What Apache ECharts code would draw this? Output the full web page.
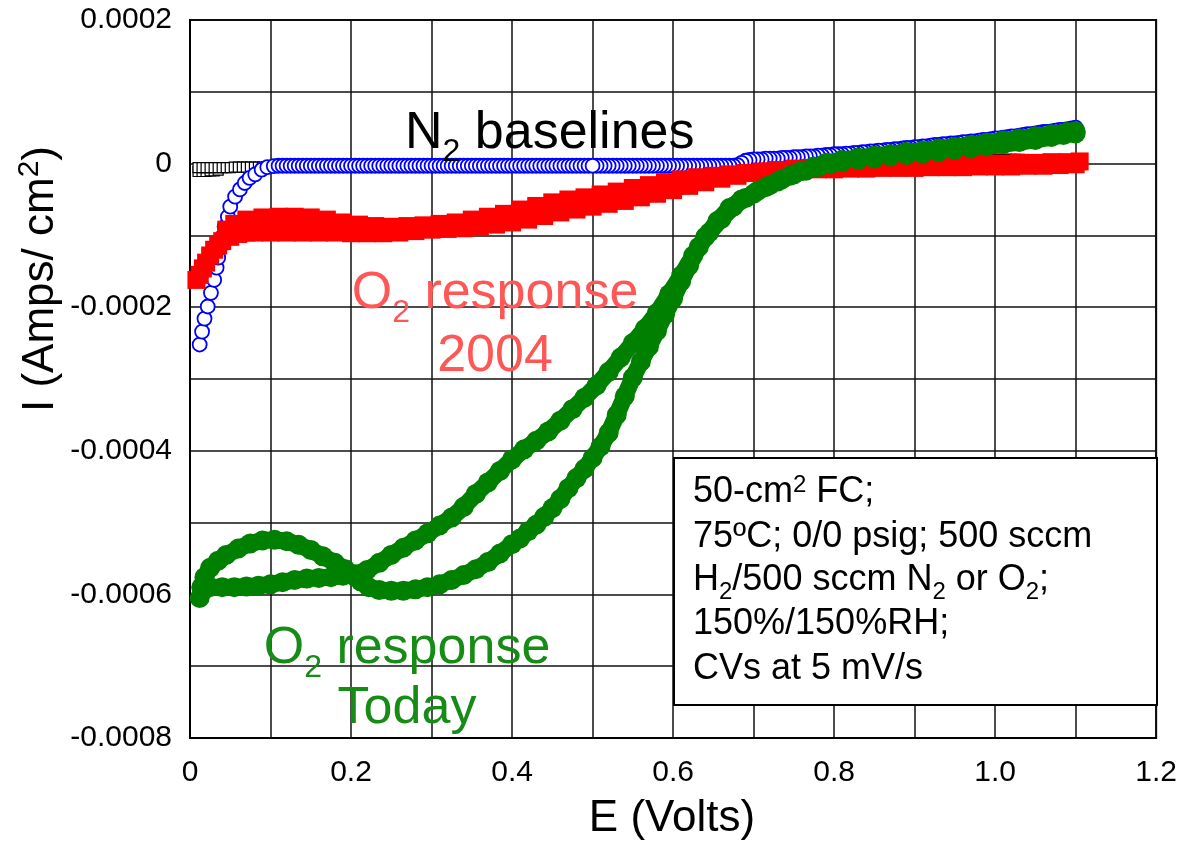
<!DOCTYPE html>
<html>
<head>
<meta charset="utf-8">
<title>O2 response CV</title>
<script src="https://cdn.jsdelivr.net/npm/echarts@6/dist/echarts.min.js"></script>
<style>
  html, body { margin: 0; padding: 0; background: #fff; }
  #chart { width: 1180px; height: 843px; }
</style>
</head>
<body>
<div id="chart"></div>
<script>
// ---- axis tick labels ----
const X_TICK_LABELS = ['0', '0.2', '0.4', '0.6', '0.8', '1.0', '1.2'];
const Y_TICK_LABELS = ['-0.0008', '-0.0006', '-0.0004', '-0.0002', '0', '0.0002'];

// ---- N2 baseline, 2004 run (open black squares) : [E (V), I (A/cm2)] ----
const N2_BASELINE_2004 = [
  [0.010,-1.1e-5],[0.015,-1.1e-5],[0.020,-1.1e-5],[0.025,-1.0e-5],[0.030,-1.0e-5],[0.035,-0.9e-5],
  [0.010,-0.55e-5],[0.015,-0.55e-5],[0.020,-0.55e-5],[0.025,-0.55e-5],[0.030,-0.55e-5],[0.035,-0.55e-5],
  [0.040,-0.55e-5],[0.045,-0.55e-5],[0.050,-0.55e-5],[0.055,-0.5e-5],[0.060,-0.5e-5],[0.065,-0.5e-5],
  [0.070,-0.5e-5],[0.075,-0.5e-5],[0.080,-0.5e-5],[0.085,-0.5e-5],[0.090,-0.5e-5],[0.095,-0.5e-5],
  [0.100,-0.5e-5],[0.105,-0.5e-5],[0.110,-0.5e-5],[0.115,-0.45e-5],
  [0.14,-0.4e-5],[0.18,-0.4e-5],[0.22,-0.4e-5],[0.26,-0.4e-5],[0.30,-0.4e-5],[0.34,-0.4e-5],
  [0.38,-0.4e-5],[0.42,-0.4e-5],[0.46,-0.4e-5],[0.50,-0.4e-5],[0.54,-0.4e-5],[0.58,-0.4e-5],[0.62,-0.4e-5],
  [0.975,0.6e-5],[0.980,0.6e-5],[0.985,0.6e-5],[0.990,0.6e-5],[0.995,0.6e-5],[1.000,0.6e-5],
  [1.005,0.6e-5],[1.010,0.6e-5],[1.015,0.6e-5],[1.020,0.6e-5],[1.025,0.6e-5],[1.030,0.6e-5]
];

// ---- N2 baseline, today (open blue circles) ----
const N2_BASELINE_TODAY = [
  // cathodic tail and rise
  [0.012,-2.52e-4],[0.015,-2.34e-4],[0.018,-2.16e-4],[0.022,-1.99e-4],[0.026,-1.80e-4],[0.030,-1.62e-4],
  [0.033,-1.45e-4],[0.035,-1.31e-4],[0.038,-1.15e-4],[0.040,-1.02e-4],[0.043,-0.88e-4],[0.047,-0.74e-4],
  [0.050,-0.60e-4],[0.056,-0.46e-4],[0.062,-0.36e-4],[0.068,-0.27e-4],[0.074,-0.20e-4],[0.081,-0.15e-4],
  [0.089,-0.085e-4],[0.096,-0.05e-4],[0.104,-0.035e-4],[0.110,-0.03e-4],
  // flat double-layer region, scanning up
  [0.115,-3e-6],[0.120,-3e-6],[0.125,-3e-6],[0.130,-3e-6],[0.135,-3e-6],[0.140,-3e-6],[0.145,-3e-6],
  [0.150,-3e-6],[0.155,-3e-6],[0.160,-3e-6],[0.165,-3e-6],[0.170,-3e-6],[0.175,-3e-6],[0.180,-3e-6],
  [0.185,-3e-6],[0.190,-3e-6],[0.195,-3e-6],[0.200,-3e-6],[0.205,-3e-6],[0.210,-3e-6],[0.215,-3e-6],
  [0.220,-3e-6],[0.225,-3e-6],[0.230,-3e-6],[0.235,-3e-6],[0.240,-3e-6],[0.245,-3e-6],[0.250,-3e-6],
  [0.255,-3e-6],[0.260,-3e-6],[0.265,-3e-6],[0.270,-3e-6],[0.275,-3e-6],[0.280,-3e-6],[0.285,-3e-6],
  [0.290,-3e-6],[0.295,-3e-6],[0.300,-3e-6],[0.305,-3e-6],[0.310,-3e-6],[0.315,-3e-6],[0.320,-3e-6],
  [0.325,-3e-6],[0.330,-3e-6],[0.335,-3e-6],[0.340,-3e-6],[0.345,-3e-6],[0.350,-3e-6],[0.355,-3e-6],
  [0.360,-3e-6],[0.365,-3e-6],[0.370,-3e-6],[0.375,-3e-6],[0.380,-3e-6],[0.385,-3e-6],[0.390,-3e-6],
  [0.395,-3e-6],[0.400,-3e-6],[0.405,-3e-6],[0.410,-3e-6],[0.415,-3e-6],[0.420,-3e-6],[0.425,-3e-6],
  [0.430,-3e-6],[0.435,-3e-6],[0.440,-3e-6],[0.445,-3e-6],[0.450,-3e-6],[0.455,-3e-6],[0.460,-3e-6],
  [0.465,-3e-6],[0.470,-3e-6],[0.475,-3e-6],[0.480,-3e-6],[0.485,-3e-6],[0.490,-3e-6],[0.495,-3e-6],
  // return sweep from the upper limit down to 0.5 V
  [1.100,0.50e-4],[1.095,0.49e-4],[1.090,0.48e-4],[1.085,0.47e-4],[1.080,0.47e-4],[1.075,0.46e-4],
  [1.070,0.45e-4],[1.065,0.44e-4],[1.060,0.44e-4],[1.055,0.43e-4],[1.050,0.42e-4],[1.045,0.41e-4],
  [1.040,0.41e-4],[1.035,0.40e-4],[1.030,0.39e-4],[1.025,0.38e-4],[1.020,0.38e-4],[1.015,0.37e-4],
  [1.010,0.36e-4],[1.005,0.35e-4],[1.000,0.35e-4],[0.995,0.34e-4],[0.990,0.33e-4],[0.985,0.33e-4],
  [0.980,0.32e-4],[0.975,0.31e-4],[0.970,0.31e-4],[0.965,0.30e-4],[0.960,0.30e-4],[0.955,0.29e-4],
  [0.950,0.28e-4],[0.945,0.28e-4],[0.940,0.27e-4],[0.935,0.27e-4],[0.930,0.26e-4],[0.925,0.26e-4],
  [0.920,0.25e-4],[0.915,0.24e-4],[0.910,0.24e-4],[0.905,0.23e-4],[0.900,0.23e-4],[0.895,0.22e-4],
  [0.890,0.22e-4],[0.885,0.21e-4],[0.880,0.20e-4],[0.875,0.20e-4],[0.870,0.19e-4],[0.865,0.19e-4],
  [0.860,0.18e-4],[0.855,0.18e-4],[0.850,0.17e-4],[0.845,0.17e-4],[0.840,0.16e-4],[0.835,0.16e-4],
  [0.830,0.15e-4],[0.825,0.15e-4],[0.820,0.14e-4],[0.815,0.14e-4],[0.810,0.13e-4],[0.805,0.13e-4],
  [0.800,0.13e-4],[0.795,0.12e-4],[0.790,0.12e-4],[0.785,0.11e-4],[0.780,0.11e-4],[0.775,0.10e-4],
  [0.770,0.10e-4],[0.765,0.10e-4],[0.760,0.09e-4],[0.755,0.09e-4],[0.750,0.09e-4],[0.745,0.08e-4],
  [0.740,0.08e-4],[0.735,0.08e-4],[0.730,0.07e-4],[0.725,0.07e-4],[0.720,0.07e-4],[0.715,0.07e-4],
  [0.710,0.06e-4],[0.705,0.06e-4],[0.700,0.06e-4],[0.695,0.05e-4],[0.690,0.04e-4],[0.685,0.01e-4],
  [0.680,-0.02e-4],[0.675,-3e-6],[0.670,-3e-6],[0.665,-3e-6],[0.660,-3e-6],[0.655,-3e-6],[0.650,-3e-6],
  [0.645,-3e-6],[0.640,-3e-6],[0.635,-3e-6],[0.630,-3e-6],[0.625,-3e-6],[0.620,-3e-6],[0.615,-3e-6],
  [0.610,-3e-6],[0.605,-3e-6],[0.600,-3e-6],[0.595,-3e-6],[0.590,-3e-6],[0.585,-3e-6],[0.580,-3e-6],
  [0.575,-3e-6],[0.570,-3e-6],[0.565,-3e-6],[0.560,-3e-6],[0.555,-3e-6],[0.550,-3e-6],[0.545,-3e-6],
  [0.540,-3e-6],[0.535,-3e-6],[0.530,-3e-6],[0.525,-3e-6],[0.520,-3e-6],[0.515,-3e-6],[0.510,-3e-6],
  [0.505,-3e-6],[0.500,-3e-6]
];

// ---- O2 response, 2004 run (filled red squares) ----
const O2_RESPONSE_2004 = [
  // anodic sweep
  [0.008,-1.62e-4],[0.012,-1.55e-4],[0.016,-1.46e-4],[0.020,-1.38e-4],[0.025,-1.28e-4],[0.030,-1.20e-4],
  [0.035,-1.14e-4],[0.040,-1.08e-4],[0.050,-1.02e-4],[0.060,-0.98e-4],[0.070,-0.96e-4],[0.080,-0.96e-4],
  [0.100,-0.96e-4],[0.120,-0.96e-4],[0.140,-0.96e-4],[0.160,-0.96e-4],[0.180,-0.96e-4],[0.200,-0.97e-4],
  [0.220,-0.97e-4],[0.240,-0.97e-4],[0.260,-0.96e-4],[0.280,-0.94e-4],[0.300,-0.92e-4],[0.320,-0.91e-4],
  [0.340,-0.90e-4],[0.360,-0.88e-4],[0.380,-0.85e-4],[0.400,-0.82e-4],[0.420,-0.78e-4],[0.440,-0.73e-4],
  [0.460,-0.68e-4],[0.480,-0.64e-4],[0.500,-0.60e-4],[0.520,-0.56e-4],[0.540,-0.52e-4],[0.560,-0.47e-4],
  [0.580,-0.42e-4],[0.600,-0.37e-4],[0.620,-0.31e-4],[0.640,-0.26e-4],[0.660,-0.21e-4],[0.680,-0.17e-4],
  [0.700,-0.13e-4],[0.720,-0.11e-4],[0.740,-0.10e-4],[0.760,-0.09e-4],[0.780,-0.08e-4],[0.800,-0.08e-4],
  [0.820,-0.07e-4],[0.840,-0.07e-4],[0.860,-0.06e-4],[0.880,-0.06e-4],[0.900,-0.06e-4],[0.920,-0.05e-4],
  [0.940,-0.05e-4],[0.960,-0.05e-4],[0.980,-0.04e-4],[1.000,-0.04e-4],[1.020,-0.04e-4],[1.040,-0.03e-4],
  [1.060,-0.03e-4],[1.080,-0.02e-4],[1.100,-0.01e-4],
  // cathodic sweep
  [1.105,0.03e-4],[1.090,0.02e-4],[1.070,0.02e-4],[1.050,0.01e-4],[1.030,0.01e-4],[1.010,0.00],
  [0.990,0.00],[0.970,-0.01e-4],[0.950,-0.01e-4],[0.930,-0.01e-4],[0.910,-0.02e-4],[0.890,-0.02e-4],
  [0.870,-0.02e-4],[0.850,-0.03e-4],[0.830,-0.03e-4],[0.810,-0.04e-4],[0.790,-0.05e-4],[0.770,-0.06e-4],
  [0.750,-0.07e-4],[0.730,-0.09e-4],[0.710,-0.11e-4],[0.690,-0.13e-4],[0.670,-0.15e-4],[0.650,-0.17e-4],
  [0.630,-0.19e-4],[0.610,-0.22e-4],[0.590,-0.26e-4],[0.570,-0.30e-4],[0.550,-0.34e-4],[0.530,-0.39e-4],
  [0.510,-0.43e-4],[0.490,-0.47e-4],[0.470,-0.50e-4],[0.450,-0.54e-4],[0.430,-0.59e-4],[0.410,-0.64e-4],
  [0.390,-0.70e-4],[0.370,-0.74e-4],[0.350,-0.78e-4],[0.330,-0.82e-4],[0.310,-0.84e-4],[0.290,-0.86e-4],
  [0.270,-0.87e-4],[0.250,-0.88e-4],[0.230,-0.87e-4],[0.210,-0.85e-4],[0.190,-0.82e-4],[0.170,-0.78e-4],
  [0.150,-0.75e-4],[0.130,-0.74e-4],[0.110,-0.74e-4],[0.090,-0.75e-4],[0.070,-0.78e-4],[0.055,-0.84e-4],
  [0.045,-0.92e-4]
];

// ---- O2 response, today (filled green circles) ----
const O2_RESPONSE_TODAY = [
  // from the upper limit, scanning down
  [1.100,0.42e-4],[1.085,0.40e-4],[1.070,0.37e-4],[1.050,0.33e-4],[1.030,0.30e-4],[1.010,0.27e-4],
  [0.990,0.24e-4],[0.970,0.21e-4],[0.950,0.19e-4],[0.930,0.16e-4],[0.910,0.14e-4],[0.890,0.12e-4],
  [0.870,0.10e-4],[0.850,0.07e-4],[0.830,0.05e-4],[0.810,0.02e-4],[0.795,-0.01e-4],[0.780,-0.05e-4],
  [0.765,-0.10e-4],[0.750,-0.15e-4],[0.735,-0.22e-4],[0.720,-0.30e-4],[0.705,-0.38e-4],[0.690,-0.48e-4],
  [0.675,-0.60e-4],[0.660,-0.77e-4],[0.645,-0.96e-4],[0.632,-1.16e-4],[0.620,-1.42e-4],[0.610,-1.64e-4],
  [0.600,-1.88e-4],[0.590,-2.10e-4],[0.580,-2.33e-4],[0.570,-2.55e-4],[0.560,-2.76e-4],[0.550,-2.98e-4],
  [0.540,-3.24e-4],[0.530,-3.50e-4],[0.520,-3.75e-4],[0.510,-3.94e-4],[0.500,-4.10e-4],[0.490,-4.25e-4],
  [0.480,-4.38e-4],[0.470,-4.52e-4],[0.460,-4.67e-4],[0.450,-4.80e-4],[0.440,-4.92e-4],[0.430,-5.03e-4],
  [0.420,-5.12e-4],[0.410,-5.22e-4],[0.400,-5.30e-4],[0.385,-5.43e-4],[0.370,-5.55e-4],[0.355,-5.65e-4],
  [0.340,-5.73e-4],[0.325,-5.80e-4],[0.310,-5.86e-4],[0.295,-5.90e-4],[0.280,-5.93e-4],[0.265,-5.95e-4],
  [0.250,-5.95e-4],[0.235,-5.94e-4],[0.222,-5.90e-4],[0.212,-5.82e-4],[0.203,-5.74e-4],[0.193,-5.65e-4],
  [0.180,-5.56e-4],[0.165,-5.47e-4],[0.150,-5.38e-4],[0.135,-5.31e-4],[0.120,-5.26e-4],[0.105,-5.24e-4],
  [0.090,-5.25e-4],[0.075,-5.29e-4],[0.060,-5.36e-4],[0.045,-5.45e-4],[0.035,-5.53e-4],[0.025,-5.63e-4],
  [0.018,-5.76e-4],[0.014,-5.90e-4],[0.012,-6.05e-4],
  // from the lower limit, scanning up
  [0.016,-5.95e-4],[0.025,-5.90e-4],[0.040,-5.90e-4],[0.055,-5.90e-4],[0.070,-5.89e-4],[0.085,-5.88e-4],
  [0.100,-5.86e-4],[0.115,-5.83e-4],[0.130,-5.80e-4],[0.145,-5.78e-4],[0.160,-5.77e-4],[0.175,-5.76e-4],
  [0.190,-5.74e-4],[0.205,-5.72e-4],[0.220,-5.66e-4],[0.235,-5.56e-4],[0.250,-5.45e-4],[0.265,-5.35e-4],
  [0.280,-5.25e-4],[0.295,-5.15e-4],[0.310,-5.04e-4],[0.325,-4.93e-4],[0.340,-4.78e-4],[0.355,-4.60e-4],
  [0.370,-4.44e-4],[0.385,-4.28e-4],[0.400,-4.12e-4],[0.415,-3.98e-4],[0.430,-3.86e-4],[0.445,-3.73e-4],
  [0.460,-3.58e-4],[0.475,-3.42e-4],[0.490,-3.26e-4],[0.505,-3.09e-4],[0.520,-2.90e-4],[0.535,-2.70e-4],
  [0.550,-2.50e-4],[0.565,-2.30e-4],[0.580,-2.08e-4],[0.595,-1.82e-4],[0.610,-1.56e-4],[0.625,-1.28e-4],
  [0.640,-1.02e-4],[0.655,-0.80e-4],[0.670,-0.62e-4],[0.685,-0.50e-4],[0.700,-0.42e-4],[0.715,-0.33e-4],
  [0.730,-0.25e-4],[0.745,-0.17e-4],[0.760,-0.10e-4],[0.775,-0.04e-4],[0.790,0.01e-4],[0.810,0.05e-4],
  [0.830,0.08e-4],[0.850,0.11e-4],[0.870,0.13e-4],[0.890,0.16e-4],[0.910,0.18e-4],[0.930,0.21e-4],
  [0.950,0.23e-4],[0.970,0.26e-4],[0.990,0.29e-4],[1.010,0.32e-4],[1.030,0.35e-4],[1.050,0.38e-4],
  [1.070,0.41e-4],[1.090,0.44e-4],[1.100,0.45e-4]
];

// ---- text styling helpers ----
const FONT = '"Liberation Sans", Arial, Helvetica, sans-serif';
const measureCtx = document.createElement('canvas').getContext('2d');

// Builds a run of text pieces (allowing sub/superscripts) whose common baseline sits at (x, y).
function textRun(parts, o) {
  let cursor = 0;
  const kids = [];
  parts.forEach(function (p) {
    measureCtx.font = p.size + 'px ' + FONT;
    kids.push({
      type: 'text', x: cursor, y: (p.dy || 0) - 0.35 * p.size, z: 100, silent: true,
      style: { text: p.t, fontSize: p.size, fontFamily: FONT, fill: o.color,
               align: 'left', verticalAlign: 'middle' }
    });
    cursor += measureCtx.measureText(p.t).width;
  });
  if (o.anchor === 'center') kids.forEach(function (k) { k.x -= cursor / 2; });
  return { type: 'group', x: o.x, y: o.y, rotation: o.rotation || 0, z: 100, silent: true, children: kids };
}

const RED_TEXT = '#ff5656';
const GREEN_TEXT = '#168c16';
const BOX_FS = 36, BOX_SUB = 24;

const graphics = [
  // conditions box
  { type: 'rect', left: 673, top: 457, z: 90, silent: true,
    shape: { width: 483, height: 247 },
    style: { fill: '#fff', stroke: '#000', lineWidth: 2 } },
  textRun([{ t: '50-cm', size: BOX_FS }, { t: '2', size: BOX_SUB, dy: -11 }, { t: ' FC;', size: BOX_FS }],
          { x: 693, y: 505, color: '#000' }),
  textRun([{ t: '75ºC; 0/0 psig; 500 sccm', size: BOX_FS }], { x: 693, y: 550, color: '#000' }),
  textRun([{ t: 'H', size: BOX_FS }, { t: '2', size: BOX_SUB, dy: 8 }, { t: '/500 sccm N', size: BOX_FS },
           { t: '2', size: BOX_SUB, dy: 8 }, { t: ' or O', size: BOX_FS }, { t: '2', size: BOX_SUB, dy: 8 },
           { t: ';', size: BOX_FS }], { x: 693, y: 593, color: '#000' }),
  textRun([{ t: '150%/150%RH;', size: BOX_FS }], { x: 693, y: 637, color: '#000' }),
  textRun([{ t: 'CVs at 5 mV/s', size: BOX_FS }], { x: 693, y: 682, color: '#000' }),

  // curve annotations
  textRun([{ t: 'N', size: 52 }, { t: '2', size: 32, dy: 11 }, { t: ' baselines', size: 52 }],
          { x: 405, y: 152, color: '#000' }),
  textRun([{ t: 'O', size: 52 }, { t: '2', size: 32, dy: 12 }, { t: ' response', size: 52 }],
          { x: 495, y: 312, color: RED_TEXT, anchor: 'center' }),
  textRun([{ t: '2004', size: 52 }], { x: 495, y: 375, color: RED_TEXT, anchor: 'center' }),
  textRun([{ t: 'O', size: 52 }, { t: '2', size: 32, dy: 12 }, { t: ' response', size: 52 }],
          { x: 407, y: 667, color: GREEN_TEXT, anchor: 'center' }),
  textRun([{ t: 'Today', size: 52 }], { x: 407, y: 727, color: GREEN_TEXT, anchor: 'center' }),

  // axis titles
  textRun([{ t: 'E (Volts)', size: 44 }], { x: 672, y: 834, color: '#000', anchor: 'center' }),
  textRun([{ t: 'I (Amps/ cm', size: 44 }, { t: '2', size: 30, dy: -16 }, { t: ')', size: 44 }],
          { x: 56, y: 412, color: '#000', rotation: Math.PI / 2 })
];

const chart = echarts.init(document.getElementById('chart'), null, { renderer: 'canvas' });

chart.setOption({
  animation: false,
  backgroundColor: '#fff',
  grid: { left: 190, right: 22, top: 20, bottom: 105, containLabel: false,
          show: true, borderColor: '#000', borderWidth: 2, backgroundColor: 'transparent' },
  xAxis: {
    type: 'value', min: 0, max: 1.2, interval: 0.1,
    axisLine: { show: true, onZero: false, lineStyle: { color: '#000', width: 2 } },
    axisTick: { show: false },
    splitLine: { show: true, lineStyle: { color: '#111', width: 1.5 } },
    axisLabel: {
      margin: 20, color: '#000', fontSize: 30, fontFamily: FONT,
      formatter: function (v) {
        const k = Math.round(v * 10);
        return k % 2 === 0 ? X_TICK_LABELS[k / 2] : '';
      }
    }
  },
  yAxis: {
    type: 'value', min: -0.0008, max: 0.0002, interval: 0.0001,
    axisLine: { show: true, onZero: false, lineStyle: { color: '#000', width: 2 } },
    axisTick: { show: false },
    splitLine: { show: true, lineStyle: { color: '#111', width: 1.5 } },
    axisLabel: {
      margin: 18, color: '#000', fontSize: 30, fontFamily: FONT,
      formatter: function (v) {
        const k = Math.round(v * 1e4);
        return k % 2 === 0 ? Y_TICK_LABELS[(k + 8) / 2] : '';
      }
    }
  },
  series: [
    {
      name: 'O2 response 2004', type: 'line', data: O2_RESPONSE_2004, silent: true,
      symbol: 'rect', symbolSize: 18, showAllSymbol: true,
      itemStyle: { color: '#ff0000' },
      lineStyle: { color: '#ff0000', width: 14, cap: 'butt', join: 'bevel' }
    },
    {
      name: 'N2 baseline 2004', type: 'scatter', data: N2_BASELINE_2004, silent: true,
      symbol: 'rect', symbolSize: 10,
      itemStyle: { color: '#fff', borderColor: '#000', borderWidth: 1.2, opacity: 1 }
    },
    {
      name: 'N2 baseline today', type: 'scatter', data: N2_BASELINE_TODAY, silent: true,
      symbol: 'circle', symbolSize: 14,
      itemStyle: { color: '#fff', borderColor: '#0000ff', borderWidth: 1.8, opacity: 1 }
    },
    {
      name: 'O2 response today', type: 'line', data: O2_RESPONSE_TODAY, silent: true,
      symbol: 'circle', symbolSize: 20, showAllSymbol: true,
      itemStyle: { color: '#008000' },
      lineStyle: { color: '#008000', width: 17, cap: 'round', join: 'round' }
    }
  ],
  graphic: graphics
});
</script>
</body>
</html>
